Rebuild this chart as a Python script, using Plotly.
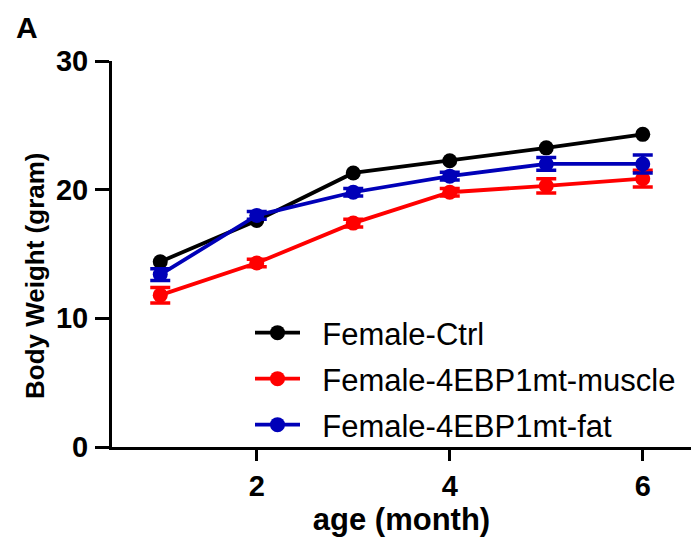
import plotly.graph_objects as go

# ---- data ----
months = [1, 2, 3, 4, 5, 6]
ctrl = [14.4, 17.6, 21.3, 22.25, 23.25, 24.3]
ctrl_err = [0.3, 0.3, 0.3, 0.3, 0.3, 0.3]
muscle = [11.8, 14.3, 17.4, 19.8, 20.3, 20.85]
muscle_err = [0.6, 0.3, 0.3, 0.3, 0.55, 0.65]
fat = [13.4, 18.0, 19.8, 21.05, 22.0, 22.0]
fat_err = [0.45, 0.3, 0.3, 0.3, 0.5, 0.7]

series_names = ["Female-Ctrl", "Female-4EBP1mt-muscle", "Female-4EBP1mt-fat"]
series_colors = ["#000000", "#FF0000", "#0000B8"]
x_ticks = [2, 4, 6]
y_ticks = [0, 10, 20, 30]

FONT = "Liberation Sans, Arial, sans-serif"
NBSP = "\u00a0"

# plot-area geometry (pixels)
L, T, W, H = 112, 61, 579, 386
legend_rows_px = [333, 379, 425]
legend_keys = ["legend", "legend2", "legend3"]
cap_widths = [0, 10, 10]

fig = go.Figure()
for name, vals, errs, col, lg, cw in zip(series_names, [ctrl, muscle, fat],
                                         [ctrl_err, muscle_err, fat_err],
                                         series_colors, legend_keys, cap_widths):
    fig.add_trace(go.Scatter(
        x=months, y=vals, name=NBSP * 2 + name, mode="lines+markers",
        line=dict(color=col, width=3.8),
        marker=dict(color=col, size=15, symbol="circle"),
        error_y=dict(type="data", array=errs, visible=True, color=col,
                     thickness=3.5, width=cw),
        cliponaxis=False, legend=lg,
    ))

legend_common = dict(
    xanchor="left", yanchor="middle", bgcolor="rgba(0,0,0,0)",
    font=dict(family=FONT, size=31, color="#000"), itemwidth=45,
)
layout_legends = {}
for lg, ypx in zip(legend_keys, legend_rows_px):
    layout_legends[lg] = dict(x=(250 - L) / W, y=(T + H - ypx) / H, **legend_common)

fig.update_layout(
    width=691, height=543,
    margin=dict(l=L, r=0, t=T, b=543 - T - H),
    paper_bgcolor="white", plot_bgcolor="white",
    showlegend=True,
    font=dict(family=FONT, color="#000"),
    **layout_legends,
)

fig.update_xaxes(
    range=[0.5, 6.5], tickvals=x_ticks, ticktext=[str(t) for t in x_ticks],
    showgrid=False, zeroline=False,
    showline=True, linecolor="#000", linewidth=3,
    ticks="outside", ticklen=11, tickwidth=3, tickcolor="#000",
    tickfont=dict(family=FONT, size=29, color="#000", weight="bold"),
    ticklabelstandoff=0,
    title=dict(text="age (month)", standoff=6,
               font=dict(family=FONT, size=31, color="#000", weight="bold")),
)
fig.update_yaxes(
    range=[0, 30], tickvals=y_ticks, ticktext=[str(t) for t in y_ticks],
    showgrid=False, zeroline=False,
    showline=True, linecolor="#000", linewidth=3,
    ticks="outside", ticklen=14, tickwidth=3, tickcolor="#000",
    tickfont=dict(family=FONT, size=29, color="#000", weight="bold"),
    ticklabelstandoff=1,
)

# y-axis title and panel letter
fig.add_annotation(
    text="Body Weight (gram)", textangle=-90,
    xref="paper", yref="paper", x=(35 - L) / W, y=(T + H - 276) / H,
    xanchor="center", yanchor="middle", showarrow=False,
    font=dict(family=FONT, size=26, color="#000", weight="bold"),
)
fig.add_annotation(
    text="A", xref="paper", yref="paper",
    x=(27 - L) / W, y=(T + H - 28) / H,
    xanchor="center", yanchor="middle", showarrow=False,
    font=dict(family=FONT, size=30, color="#000", weight="bold"),
)

fig.write_html("out.html")
